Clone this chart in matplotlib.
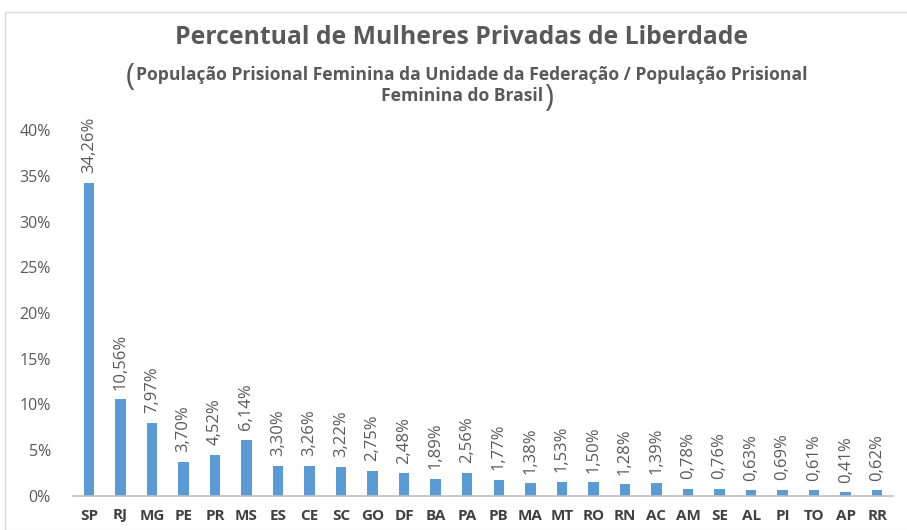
import matplotlib
matplotlib.use("Agg")
import matplotlib.pyplot as plt
from matplotlib.patches import Rectangle
from matplotlib.transforms import IdentityTransform

# UF share of the female prison population (%)
ufs = ["SP", "RJ", "MG", "PE", "PR", "MS", "ES", "CE", "SC", "GO", "DF", "BA", "PA",
       "PB", "MA", "MT", "RO", "RN", "AC", "AM", "SE", "AL", "PI", "TO", "AP", "RR"]
pct = [34.26, 10.56, 7.97, 3.70, 4.52, 6.14, 3.30, 3.26, 3.22, 2.75, 2.48, 1.89, 2.56,
       1.77, 1.38, 1.53, 1.50, 1.28, 1.39, 0.78, 0.76, 0.63, 0.69, 0.61, 0.41, 0.62]
yticks = [0, 5, 10, 15, 20, 25, 30, 35, 40]

title = "Percentual de Mulheres Privadas de Liberdade"
sub1 = "População Prisional Feminina da Unidade da Federação / População Prisional"
sub2 = "Feminina do Brasil"

GRAY = "#595959"
BLUE = "#5B9BD5"
plt.rcParams["font.family"] = ["Open Sans", "DejaVu Sans"]

fig = plt.figure(figsize=(9.07, 5.30), dpi=100)
fig.patches.append(Rectangle((5 / 907, 0), 1.0, 1 - 12 / 530, transform=fig.transFigure,
                             fill=False, edgecolor="#d9d9d9", lw=1.0))
ax = fig.add_axes([73 / 907, 34 / 530, 820 / 907, 366 / 530])

x = list(range(len(ufs)))
ax.bar(x, pct, width=0.33, color=BLUE)
for xi, v in zip(x, pct):
    ax.annotate(f"{v:.2f}%".replace(".", ","), (xi, v), xytext=(0, 7),
                textcoords="offset points", rotation=90, ha="center", va="bottom",
                fontsize=12, color=GRAY)

ax.set_xlim(-0.5, len(ufs) - 0.5)
ax.set_ylim(0, 40)
ax.set_yticks(yticks)
ax.set_yticklabels([f"{t}%" for t in yticks], fontsize=11.5, color=GRAY)
ax.set_xticks(x)
ax.set_xticklabels(ufs, fontsize=11, fontweight="bold", color="#404040")
ax.tick_params(length=0)
ax.tick_params(axis="y", pad=16)
ax.tick_params(axis="x", pad=9)
for s in ["top", "right", "left"]:
    ax.spines[s].set_visible(False)
ax.spines["bottom"].set_color("#bfbfbf")
ax.spines["bottom"].set_linewidth(1.2)

fig.text(462 / 907, 1 - 38 / 530, title, ha="center", va="center", fontsize=17.8,
         fontweight="bold", color=GRAY)
t1 = fig.text(472 / 907, 1 - 75 / 530, sub1, ha="center", va="center", fontsize=12.6,
              fontweight="bold", color=GRAY)
t2 = fig.text(462 / 907, 1 - 96 / 530, sub2, ha="center", va="center", fontsize=12.6,
              fontweight="bold", color=GRAY)

# oversized parentheses around the subtitle (Excel-style rich text)
fig.canvas.draw()
r = fig.canvas.get_renderer()
b1 = t1.get_window_extent(r)
b2 = t2.get_window_extent(r)
fig.text(b1.x0 - 1, (b1.y0 + b1.y1) / 2 - 2, "(", ha="right", va="center",
         fontsize=22, color=GRAY, transform=IdentityTransform())
fig.text(b2.x1 + 1, (b2.y0 + b2.y1) / 2 - 2, ")", ha="left", va="center",
         fontsize=22, color=GRAY, transform=IdentityTransform())

fig.savefig("out.png", dpi=100)
